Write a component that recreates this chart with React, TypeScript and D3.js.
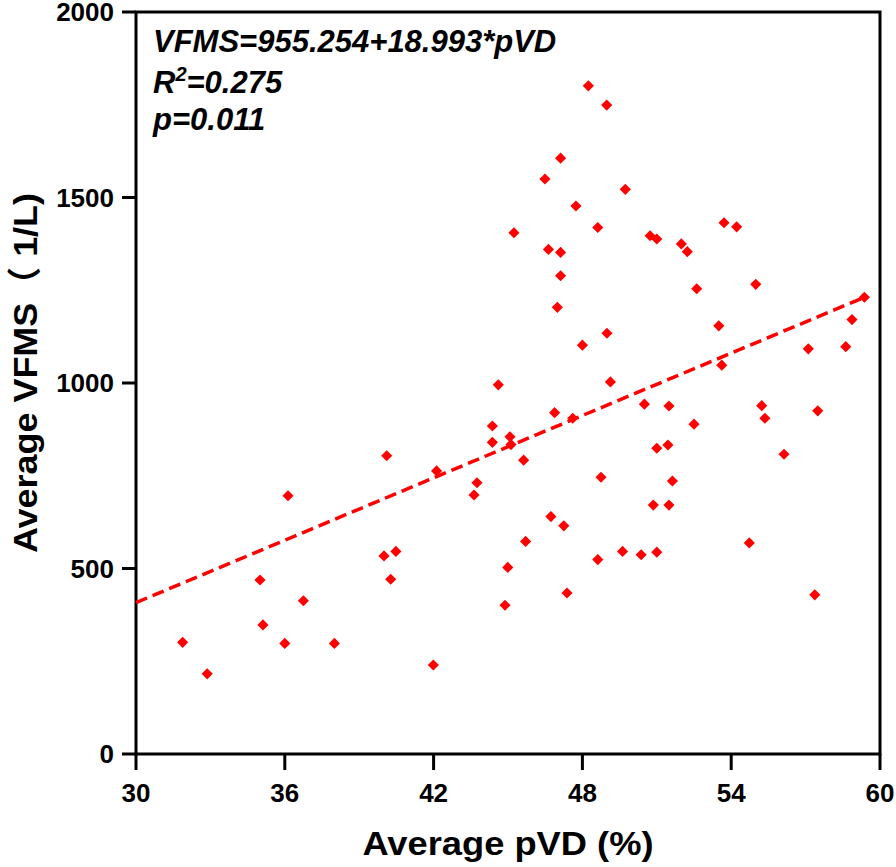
import React from "react";
import * as d3 from "d3";

// Data
const pvd: number[] = [
  31.88, 32.87, 35.0, 35.12, 36.0, 36.13, 36.75, 38.0, 40.11, 40.0,
  40.48, 40.27, 41.99, 42.12, 43.63, 43.75, 44.37, 44.37, 44.61, 44.88,
  44.99, 45.08, 45.12, 45.24, 45.63, 45.71, 46.49, 46.63, 46.73, 46.88,
  46.99, 47.12, 47.12, 47.12, 47.25, 47.38, 47.61, 47.74, 48.0, 48.24,
  48.62, 48.62, 48.75, 48.98, 48.99, 49.13, 49.62, 49.73, 50.37, 50.5,
  50.73, 50.86, 51.0, 51.0, 51.0, 51.45, 51.49, 51.49, 51.63, 51.99,
  52.23, 52.5, 52.61, 53.5, 53.62, 53.71, 54.22, 54.73, 54.99, 55.23,
  55.36, 56.13, 57.11, 57.37, 57.49, 58.62, 58.87, 59.37,
];
const vfms: number[] = [
  301, 216, 469, 348, 298, 696, 413, 298, 804, 534,
  546, 471, 240, 763, 698, 731, 884, 840, 995, 401,
  503, 855, 834, 1405, 792, 573, 1550, 1360, 640, 920,
  1204, 1289, 1352, 1606, 615, 434, 905, 1477, 1102, 1801,
  1419, 524, 746, 1749, 1134, 1003, 546, 1522, 537, 943,
  1397, 671, 1388, 824, 544, 833, 938, 671, 736, 1375,
  1354, 889, 1254, 1154, 1048, 1432, 1421, 569, 1266, 939,
  905, 808, 1092, 429, 925, 1098, 1171, 1231,
];
const fitX: number[] = [30, 59.37];
const fitY: number[] = [408, 1231];
const xTicks: number[] = [30, 36, 42, 48, 54, 60];
const yTicks: number[] = [0, 500, 1000, 1500, 2000];
const annotations: string[] = ["VFMS=955.254+18.993*pVD", "R2=0.275", "p=0.011"];

const W = 896;
const H = 867;
const left = 136;
const right = 880;
const top = 12;
const bottom = 754;
const RED = "#ff0000";
const FONT = "'Liberation Sans', Arial, 'Noto Sans CJK SC', sans-serif";

export default function App() {
  const x = d3.scaleLinear().domain([30, 60]).range([left, right]);
  const y = d3.scaleLinear().domain([0, 2000]).range([bottom, top]);
  const diamond = d3.symbol().type(d3.symbolSquare).size(62)();
  const fitLine = d3
    .line<number>()
    .x((_, i) => x(fitX[i]))
    .y((_, i) => y(fitY[i]))(fitX);

  return (
    <svg
      width={W}
      height={H}
      style={{ position: "absolute", left: 0, top: 0, background: "#fff" }}
      fontFamily={FONT}
    >
      <rect x={0} y={0} width={W} height={H} fill="#fff" />
      {/* frame */}
      <rect
        x={left}
        y={top}
        width={right - left}
        height={bottom - top}
        fill="none"
        stroke="#000"
        strokeWidth={3}
      />
      {/* y ticks */}
      {yTicks.map((t) => (
        <g key={"y" + t}>
          <line x1={left - 14} x2={left} y1={y(t)} y2={y(t)} stroke="#000" strokeWidth={3} />
          <text
            x={left - 22}
            y={y(t)}
            dy="0.36em"
            textAnchor="end"
            fontSize={26}
            fontWeight="bold"
          >
            {t}
          </text>
        </g>
      ))}
      {/* x ticks */}
      {xTicks.map((t) => (
        <g key={"x" + t}>
          <line x1={x(t)} x2={x(t)} y1={bottom} y2={bottom + 16} stroke="#000" strokeWidth={3} />
          <text x={x(t)} y={802} textAnchor="middle" fontSize={26} fontWeight="bold">
            {t}
          </text>
        </g>
      ))}
      {/* axis titles */}
      <text
        x={(left + right) / 2}
        y={855}
        textAnchor="middle"
        fontSize={34}
        fontWeight="bold"
        textLength={291}
        lengthAdjust="spacingAndGlyphs"
      >
        Average pVD (%)
      </text>
      <text
        transform={`translate(37, ${(top + bottom) / 2 - 10}) rotate(-90)`}
        textAnchor="middle"
        fontSize={34}
        fontWeight="bold"
        textLength={360}
        lengthAdjust="spacingAndGlyphs"
      >
        Average VFMS（ 1/L)
      </text>
      {/* fit line */}
      <path
        d={fitLine || ""}
        fill="none"
        stroke={RED}
        strokeWidth={3.5}
        strokeDasharray="12 6"
      />
      {/* points */}
      {pvd.map((v, i) => (
        <path
          key={i}
          d={diamond || ""}
          transform={`translate(${x(v)}, ${y(vfms[i])}) rotate(45)`}
          fill={RED}
        />
      ))}
      {/* annotations */}
      <g fontSize={31} fontWeight="bold" fontStyle="italic">
        <text x={153} y={52}>{annotations[0]}</text>
        <text x={153} y={93}>
          R<tspan dy={-12} fontSize={20}>2</tspan>
          <tspan dy={12}>{annotations[1].slice(2)}</tspan>
        </text>
        <text x={153} y={130}>{annotations[2]}</text>
      </g>
    </svg>
  );
}
